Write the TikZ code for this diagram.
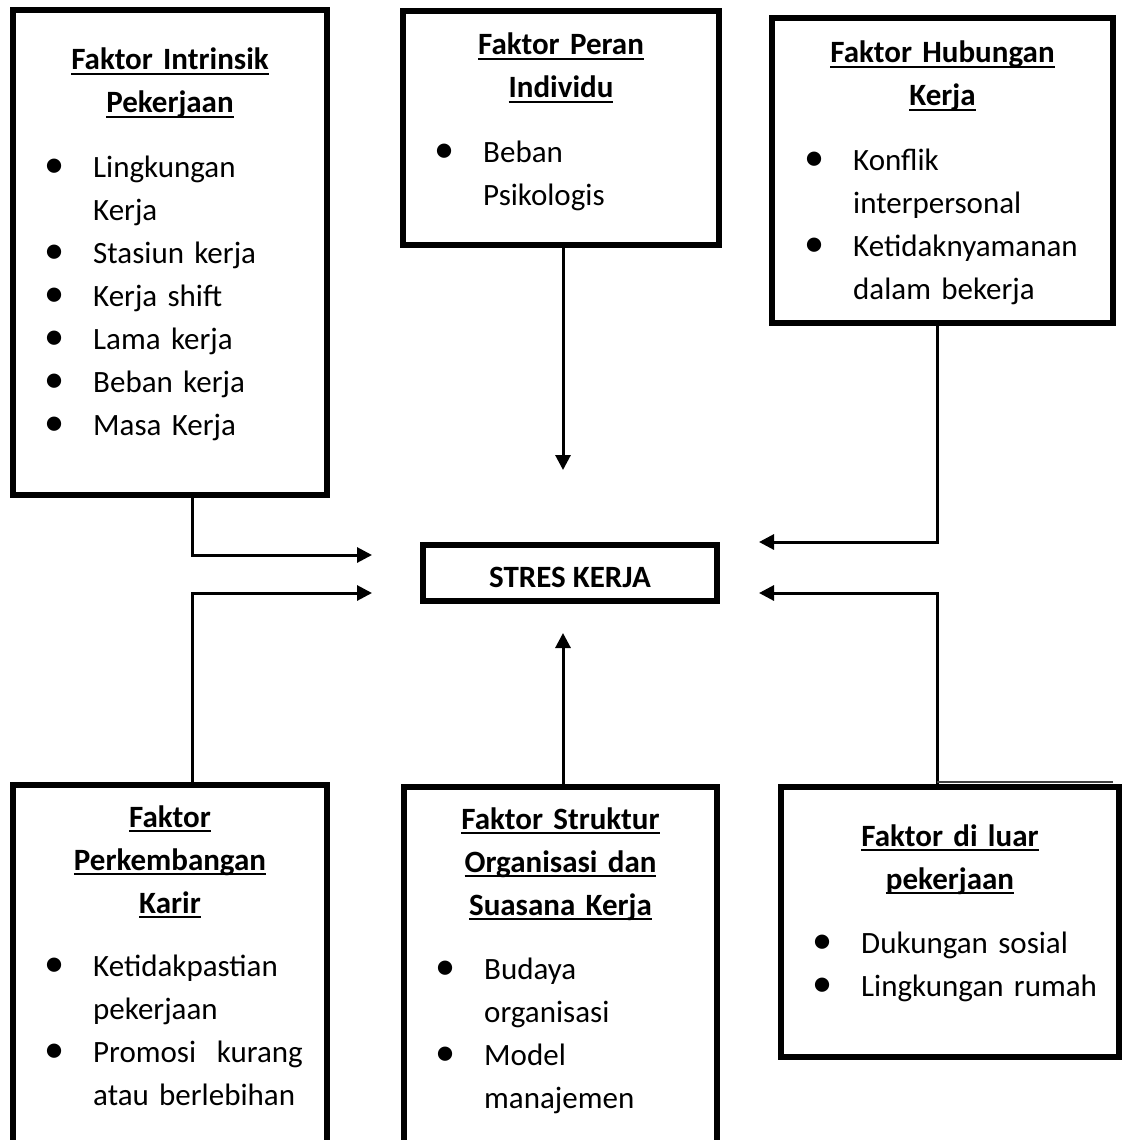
\documentclass[tikz,border=0pt]{standalone}
\usepackage{fontspec}
\setmainfont{Carlito}
\usetikzlibrary{arrows.meta}
\usetikzlibrary{positioning}

\newsavebox{\kotakjudul}
\newcommand{\judul}[1]{\leavevmode\sbox{\kotakjudul}{\textbf{#1}}\rlap{\rule[-5pt]{\wd\kotakjudul}{2pt}}\usebox{\kotakjudul}}
\newcommand{\titik}{\makebox[49pt][l]{\scalebox{1.3}{\textbullet}}}
\newcommand{\lanjut}{\hspace*{49pt}}

\begin{document}
\begin{tikzpicture}
		[
			x = 1pt, y = -1pt,
			kotak/.style = {rectangle, draw = black, line width = 6pt, inner sep = 0pt},
			kepala/.style = {inner sep = 0pt, align = center, text width = 300pt, font = \fontsize{31}{43}\selectfont},
			isi/.style = {inner sep = 0pt, align = left, text width = 300pt, font = \fontsize{31}{43}\selectfont},
			panah/.style = {line width = 3pt, -{Triangle[length = 15pt, width = 15pt]}},
			tipis/.style = {line width = 1.5pt, black!75},
		]
			\useasboundingbox (0,0) rectangle (1125,1140);
			%
			\node (intrinsik) [kotak, minimum width = 314pt, minimum height = 485pt] at (170,252.5) {};
			\node (peran) [kotak, minimum width = 316pt, minimum height = 234pt] at (561,128) {};
			\node (hubungan) [kotak, minimum width = 341pt, minimum height = 305pt] at (942.5,170.5) {};
			\node (stres) [kotak, minimum width = 294pt, minimum height = 56pt, text height = 28pt, text depth = 0pt, font = \fontsize{31}{43}\selectfont\bfseries] at (570,573) {STRES KERJA};
			\node (karir) [kotak, minimum width = 314pt, minimum height = 380pt] at (170,975) {};
			\node (struktur) [kotak, minimum width = 313pt, minimum height = 380pt] at (560.5,977) {};
			\node (luar) [kotak, minimum width = 338pt, minimum height = 270pt] at (950,922) {};
			%
			\node (judulA) [kepala, anchor = base] at ([yshift = -63pt]intrinsik.north) {\judul{Faktor Intrinsik}\\\judul{Pekerjaan}};
			\node (isiA) [isi, anchor = base west] at ([xshift = 34pt, yshift = -170pt]intrinsik.north west) {\titik Lingkungan\\\lanjut Kerja\\\titik Stasiun kerja\\\titik Kerja shift\\\titik Lama kerja\\\titik Beban kerja\\\titik Masa Kerja};
			%
			\node (judulB) [kepala, anchor = base] at ([yshift = -47pt]peran.north) {\judul{Faktor Peran}\\\judul{Individu}};
			\node (isiB) [isi, anchor = base west] at ([xshift = 34pt, yshift = -154pt]peran.north west) {\titik Beban\\\lanjut Psikologis};
			%
			\node (judulC) [kepala, anchor = base] at ([yshift = -48pt]hubungan.north) {\judul{Faktor Hubungan}\\\judul{Kerja}};
			\node (isiC) [isi, anchor = base west] at ([xshift = 35pt, yshift = -155pt]hubungan.north west) {\titik Konflik\\\lanjut interpersonal\\\titik Ketidaknyamanan\\\lanjut dalam bekerja};
			%
			\node (judulD) [kepala, anchor = base] at ([yshift = -45pt]karir.north) {\judul{Faktor}\\\judul{Perkembangan}\\\judul{Karir}};
			\node (isiD) [isi, anchor = base west] at ([xshift = 34pt, yshift = -194pt]karir.north west) {\titik Ketidakpastian\\\lanjut pekerjaan\\\titik Promosi~~kurang\\\lanjut atau berlebihan};
			%
			\node (judulE) [kepala, anchor = base] at ([yshift = -45pt]struktur.north) {\judul{Faktor Struktur}\\\judul{Organisasi dan}\\\judul{Suasana Kerja}};
			\node (isiE) [isi, anchor = base west] at ([xshift = 34pt, yshift = -195pt]struktur.north west) {\titik Budaya\\\lanjut organisasi\\\titik Model\\\lanjut manajemen};
			%
			\node (judulF) [kepala, anchor = base] at ([yshift = -62pt]luar.north) {\judul{Faktor di luar}\\\judul{pekerjaan}};
			\node (isiF) [isi, anchor = base west] at ([xshift = 34pt, yshift = -169pt]luar.north west) {\titik Dukungan sosial\\\titik Lingkungan rumah};
			%
			\coordinate (kolomKiri) at (192,0);
			\coordinate (kolomTengah) at (563,0);
			\coordinate (kolomKanan) at (937,0);
			\coordinate (ujungA) at (372,555);
			\coordinate (ujungB) at (372,593);
			\coordinate (ujungC) at (563,470);
			\coordinate (ujungD) at (563,633);
			\coordinate (ujungE) at (759,542);
			\coordinate (ujungF) at (759,593);
			\coordinate (ekor) at (1113,782);
			%
			\draw [panah] (intrinsik.south -| kolomKiri) |- (ujungA);
			\draw [panah] (karir.north -| kolomKiri) |- (ujungB);
			\draw [panah] (peran.south -| kolomTengah) -- (ujungC);
			\draw [panah] (struktur.north -| kolomTengah) -- (ujungD);
			\draw [panah] (hubungan.south -| kolomKanan) |- (ujungE);
			\draw [panah] (luar.north -| kolomKanan) |- (ujungF);
			\draw [tipis] (ekor -| kolomKanan) -- (ekor);
			%
\end{tikzpicture}
\end{document}
